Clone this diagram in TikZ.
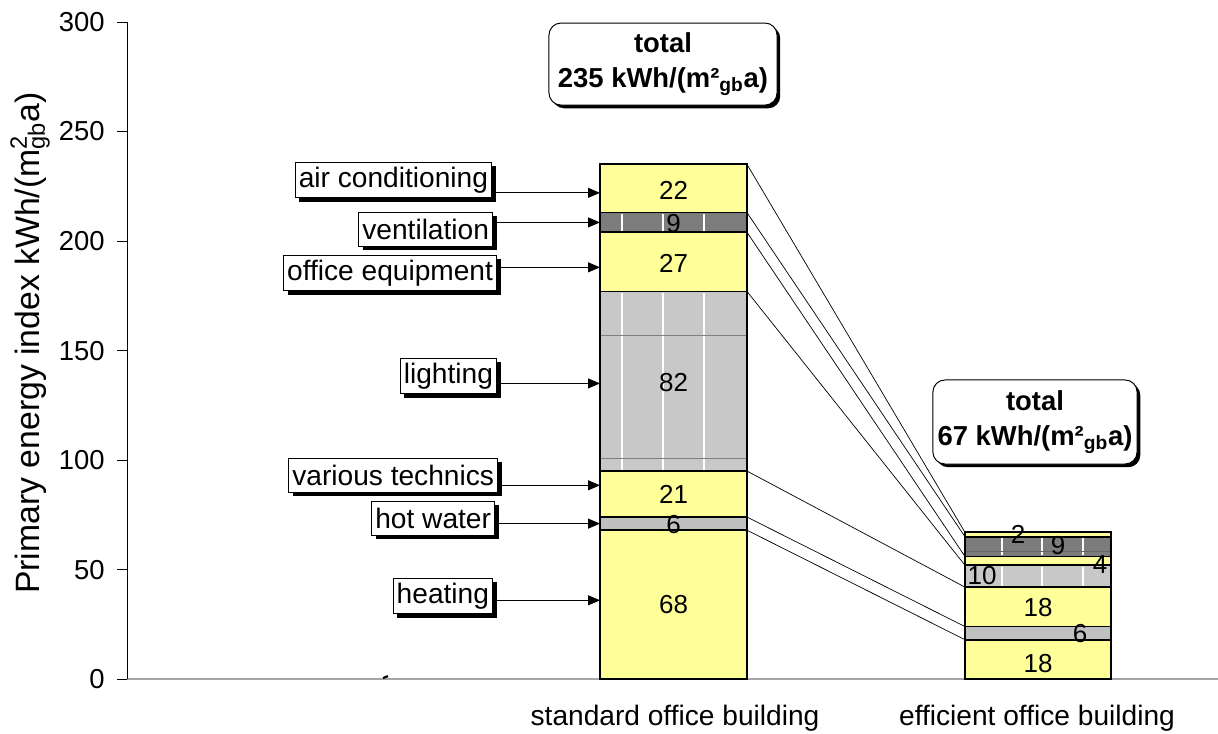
\documentclass[tikz,border=0pt]{standalone}
\usepackage{fontspec}
\setmainfont{Liberation Sans}
\usetikzlibrary{shadows,arrows.meta}

\definecolor{barYellow}{HTML}{FFFF99}
\definecolor{ventGray}{HTML}{7C7C7C}
\definecolor{lightGray}{HTML}{C8C8C8}
\definecolor{waterGray}{HTML}{C0C0C0}

\begin{document}
\begin{tikzpicture}[x=0.025cm, y=0.05475cm,
    seg/.style = {draw=black, line width=1.3pt},
    lbl/.style = {draw, fill=white, line width=0.7pt, inner xsep=2.5pt,
      minimum height=0.85cm, font=\fontsize{20}{23}\selectfont,
      drop shadow={shadow xshift=0.1cm, shadow yshift=-0.1cm, fill=black, opacity=1}},
    total/.style = {draw, fill=white, line width=0.7pt, rounded corners=0.3cm,
      align=center, font=\bfseries\fontsize{19.5}{25}\selectfont,
      drop shadow={shadow xshift=0.08cm, shadow yshift=-0.08cm, fill=black, opacity=1}},
    val/.style = {inner sep=0pt, font=\fontsize{18.5}{21}\selectfont},
    tick/.style = {inner sep=0pt, anchor=east, font=\fontsize{19.5}{22}\selectfont},
    tip/.style = {-{Triangle[length=0.3cm, width=0.25cm]}, line width=0.7pt}]
\useasboundingbox (0,-24.66) rectangle (1218,310.05);

% axes
\draw[gray!70, line width=1pt] (127,0) -- (1218,0);
\draw[line width=0.7pt] (127,0) -- (127,300);
\foreach \v in {0,50,...,300} {
  \draw[line width=0.7pt] (117,\v) -- (127,\v);
  \node[tick] at (105,\v) {\v};
}
\draw[line width=1.5pt] (383,0.5) -- (388,1.4);
\node[rotate=90, font=\fontsize{24}{28}\selectfont] (ytitle) at (30,153.4)
  {Primary energy index kWh/(m\rlap{\textsuperscript{2}}\textsubscript{gb}a)};
\node[font=\fontsize{20}{23}\selectfont] (xstd) at (675,-17.8) {standard office building};
\node[font=\fontsize{20}{23}\selectfont] (xeff) at (1037,-17.8) {efficient office building};

% standard office building
\foreach \lo/\hi/\col in {0/68/barYellow, 68/74/waterGray, 74/95/barYellow,
    95/177/lightGray, 177/204/barYellow, 204/213/ventGray, 213/235/barYellow}
  \filldraw[seg, fill=\col] (600,\lo) rectangle (747,\hi);
\foreach \x in {622,663,704} {
  \draw[white, line width=0.8pt] (\x,95.6) -- (\x,176.4);
  \draw[white, line width=0.8pt] (\x,204.6) -- (\x,212.4);
}
\draw[gray, line width=0.4pt] (601,157) -- (746,157);
\draw[gray, line width=0.4pt] (601,101) -- (746,101);

% efficient office building
\foreach \lo/\hi/\col in {0/18/barYellow, 18/24/waterGray, 24/42/barYellow,
    42/52/lightGray, 52/56/barYellow, 56/65/ventGray, 65/67/barYellow}
  \filldraw[seg, fill=\col] (965,\lo) rectangle (1111,\hi);
\foreach \x in {1002,1042,1083} {
  \draw[white, line width=0.8pt] (\x,42.6) -- (\x,51.4);
  \draw[white, line width=0.8pt] (\x,56.6) -- (\x,64.4);
}
\draw[black!60, line width=0.4pt] (966,58.4) -- (1110,58.4);

% connectors between the bars
\foreach \a/\b in {235/67, 213/65, 204/56, 177/52, 95/42, 74/24, 68/18}
  \draw[line width=0.5pt] (747,\a) -- (965,\b);

% values
\foreach \v/\y in {22/223.3, 9/207.8, 27/190, 82/135.2, 21/84.5, 6/70.8, 68/34.2}
  \node[val] at (673.5,\y) {\v};
\foreach \v/\x/\y in {2/1018/66.2, 9/1058/61.2, 4/1100/52.5, 10/982/47.5,
    18/1038/32.9, 6/1080/21, 18/1038/7.3}
  \node[val] at (\x,\y) {\v};

% totals
\node[total, minimum width=5.7cm, minimum height=2.05cm] (totstd) at (663,280.8)
  {total\\235 kWh/(m²\textsubscript{gb}a)};
\node[total, minimum width=5.1cm, minimum height=2.1cm] (toteff) at (1035,117.4)
  {total\\67 kWh/(m²\textsubscript{gb}a)};

% labels with arrows to the standard bar
\node[lbl, anchor=east] (air)   at (492,227.9) {air conditioning};
\node[lbl, anchor=east] (vent)  at (493,205.5) {ventilation};
\node[lbl, anchor=east] (equip) at (497,185.4) {office equipment};
\node[lbl, anchor=east] (light) at (497,138.4) {lighting};
\node[lbl, anchor=east] (tech)  at (498,93.1)  {various technics};
\node[lbl, anchor=east] (water) at (495,73.5)  {hot water};
\node[lbl, anchor=east] (heat)  at (493,37.9)  {heating};

\coordinate (to-air)   at (600,222);
\coordinate (to-vent)  at (600,208.5);
\coordinate (to-equip) at (600,188);
\coordinate (to-light) at (600,135);
\coordinate (to-tech)  at (600,88.5);
\coordinate (to-water) at (600,71);
\coordinate (to-heat)  at (600,36);
\foreach \n in {air,vent,equip,light,tech,water,heat}
  \draw[tip] (\n.east |- to-\n) -- (to-\n);
\end{tikzpicture}
\end{document}
